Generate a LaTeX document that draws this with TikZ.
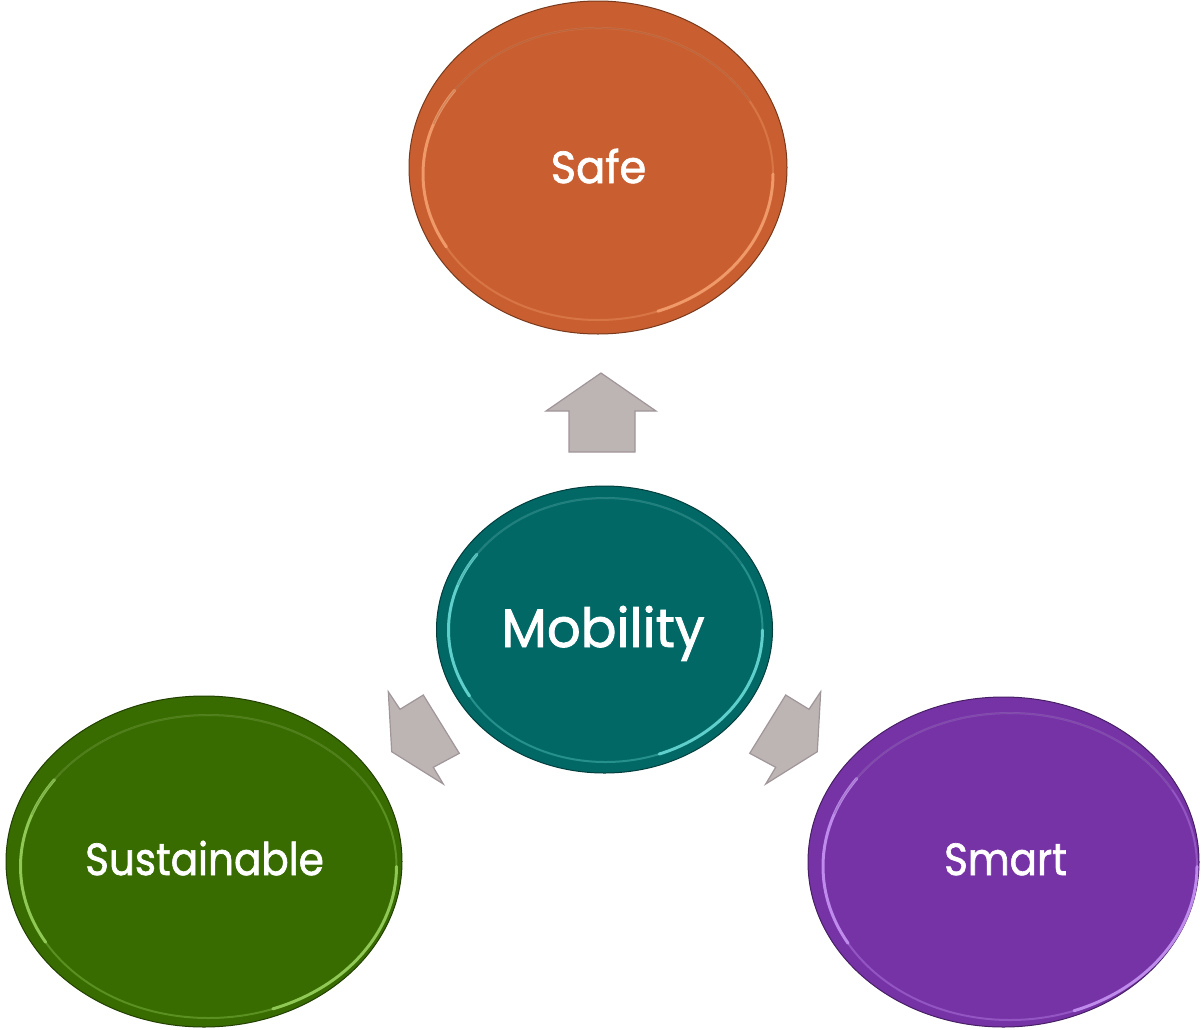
\documentclass[tikz,border=0pt]{standalone}
\usepackage{fontspec}
\setmainfont{Poppins}[FakeBold=1.5,AutoFakeBold=1.5]
\newfontfamily\labfont{Poppins}[FakeBold=1.5]
\usetikzlibrary{shapes.geometric}
\definecolor{safeC}{HTML}{C95F30}
\definecolor{safeL}{HTML}{F5A070}
\definecolor{mobC}{HTML}{026866}
\definecolor{mobL}{HTML}{6ADCD8}
\definecolor{susC}{HTML}{386B00}
\definecolor{susL}{HTML}{9AD460}
\definecolor{smaC}{HTML}{7633A6}
\definecolor{smaL}{HTML}{C896F5}
\definecolor{arrC}{HTML}{BDB4B4}
\definecolor{arrD}{HTML}{A0969A}
\newcommand\myrim[5]{%
  \draw[#5, line width=2pt, opacity=.35] (#1,#2) ellipse[x radius=#3, y radius=#4];
  \draw[#5, line width=3pt, opacity=.85, line cap=round] (#1,#2) ++(150:#3 and #4) arc[start angle=150, end angle=215, x radius=#3, y radius=#4];
  \draw[#5, line width=3pt, opacity=.85, line cap=round] (#1,#2) ++(0:#3 and #4) arc[start angle=0, end angle=70, x radius=#3, y radius=#4];
  \draw[black, line width=1.5pt, opacity=.12] (#1,#2) ++(200:#3 and #4) arc[start angle=200, end angle=330, x radius=#3, y radius=#4];
}
\begin{document}
\begin{tikzpicture}[x=1pt,y=-1pt,
  oval/.style={ellipse, inner sep=0pt, draw=#1!60!black, fill=#1, line width=1pt},
  lbl/.style={text=white, anchor=base, inner sep=0pt},
  blockarrow/.style={fill=arrC, draw=arrD, line width=1.2pt, line join=miter}]
\useasboundingbox (0,0) rectangle (1202,1029);

% ellipses
\node[oval=safeC, minimum width=378pt, minimum height=333pt] (safe) at (598,167.5) {};
\myrim{598}{174}{175}{146}{safeL}
\node[oval=mobC, minimum width=336pt, minimum height=287pt] (mob) at (604.5,629.5) {};
\myrim{605.5}{630}{157}{132}{mobL}
\node[oval=susC, minimum width=396pt, minimum height=331pt] (sus) at (204,861.5) {};
\myrim{208.5}{866.5}{188}{151.5}{susL}
\node[oval=smaC, minimum width=391pt, minimum height=330pt] (sma) at (1003.5,862) {};
\myrim{1010}{866.5}{187}{153.5}{smaL}

% labels
\node[lbl, font=\labfont\fontsize{45}{50}\selectfont] (tsafe) at (598.5,183) {\scalebox{0.96}[1]{Safe}};
\node[lbl, font=\labfont\fontsize{54}{60}\selectfont] (tmob) at (603,647) {\scalebox{0.98}[1]{Mobility}};
\node[lbl, font=\labfont\fontsize{45}{50}\selectfont] (tsus) at (204.5,875) {\scalebox{0.9}[1]{Sustainable}};
\node[lbl, font=\labfont\fontsize{45}{50}\selectfont] (tsma) at (1005.5,875) {\scalebox{0.9}[1]{Smart}};

% block arrows
\draw[blockarrow] (601,373) -- (656,411) -- (635,411) -- (635,452) -- (569,452) -- (569,411) -- (546,411) -- cycle;
\draw[blockarrow] (391.7,751.7) -- (388.3,691.7) -- (400,709.3) -- (423.3,695) -- (459.3,753.3) -- (433.3,767.3) -- (443.3,784) -- cycle;
\draw[blockarrow] (817.3,751.7) -- (820.7,691.7) -- (809,709.3) -- (785.7,695) -- (749.7,753.3) -- (775.7,767.3) -- (765.7,784) -- cycle;
\end{tikzpicture}
\end{document}
